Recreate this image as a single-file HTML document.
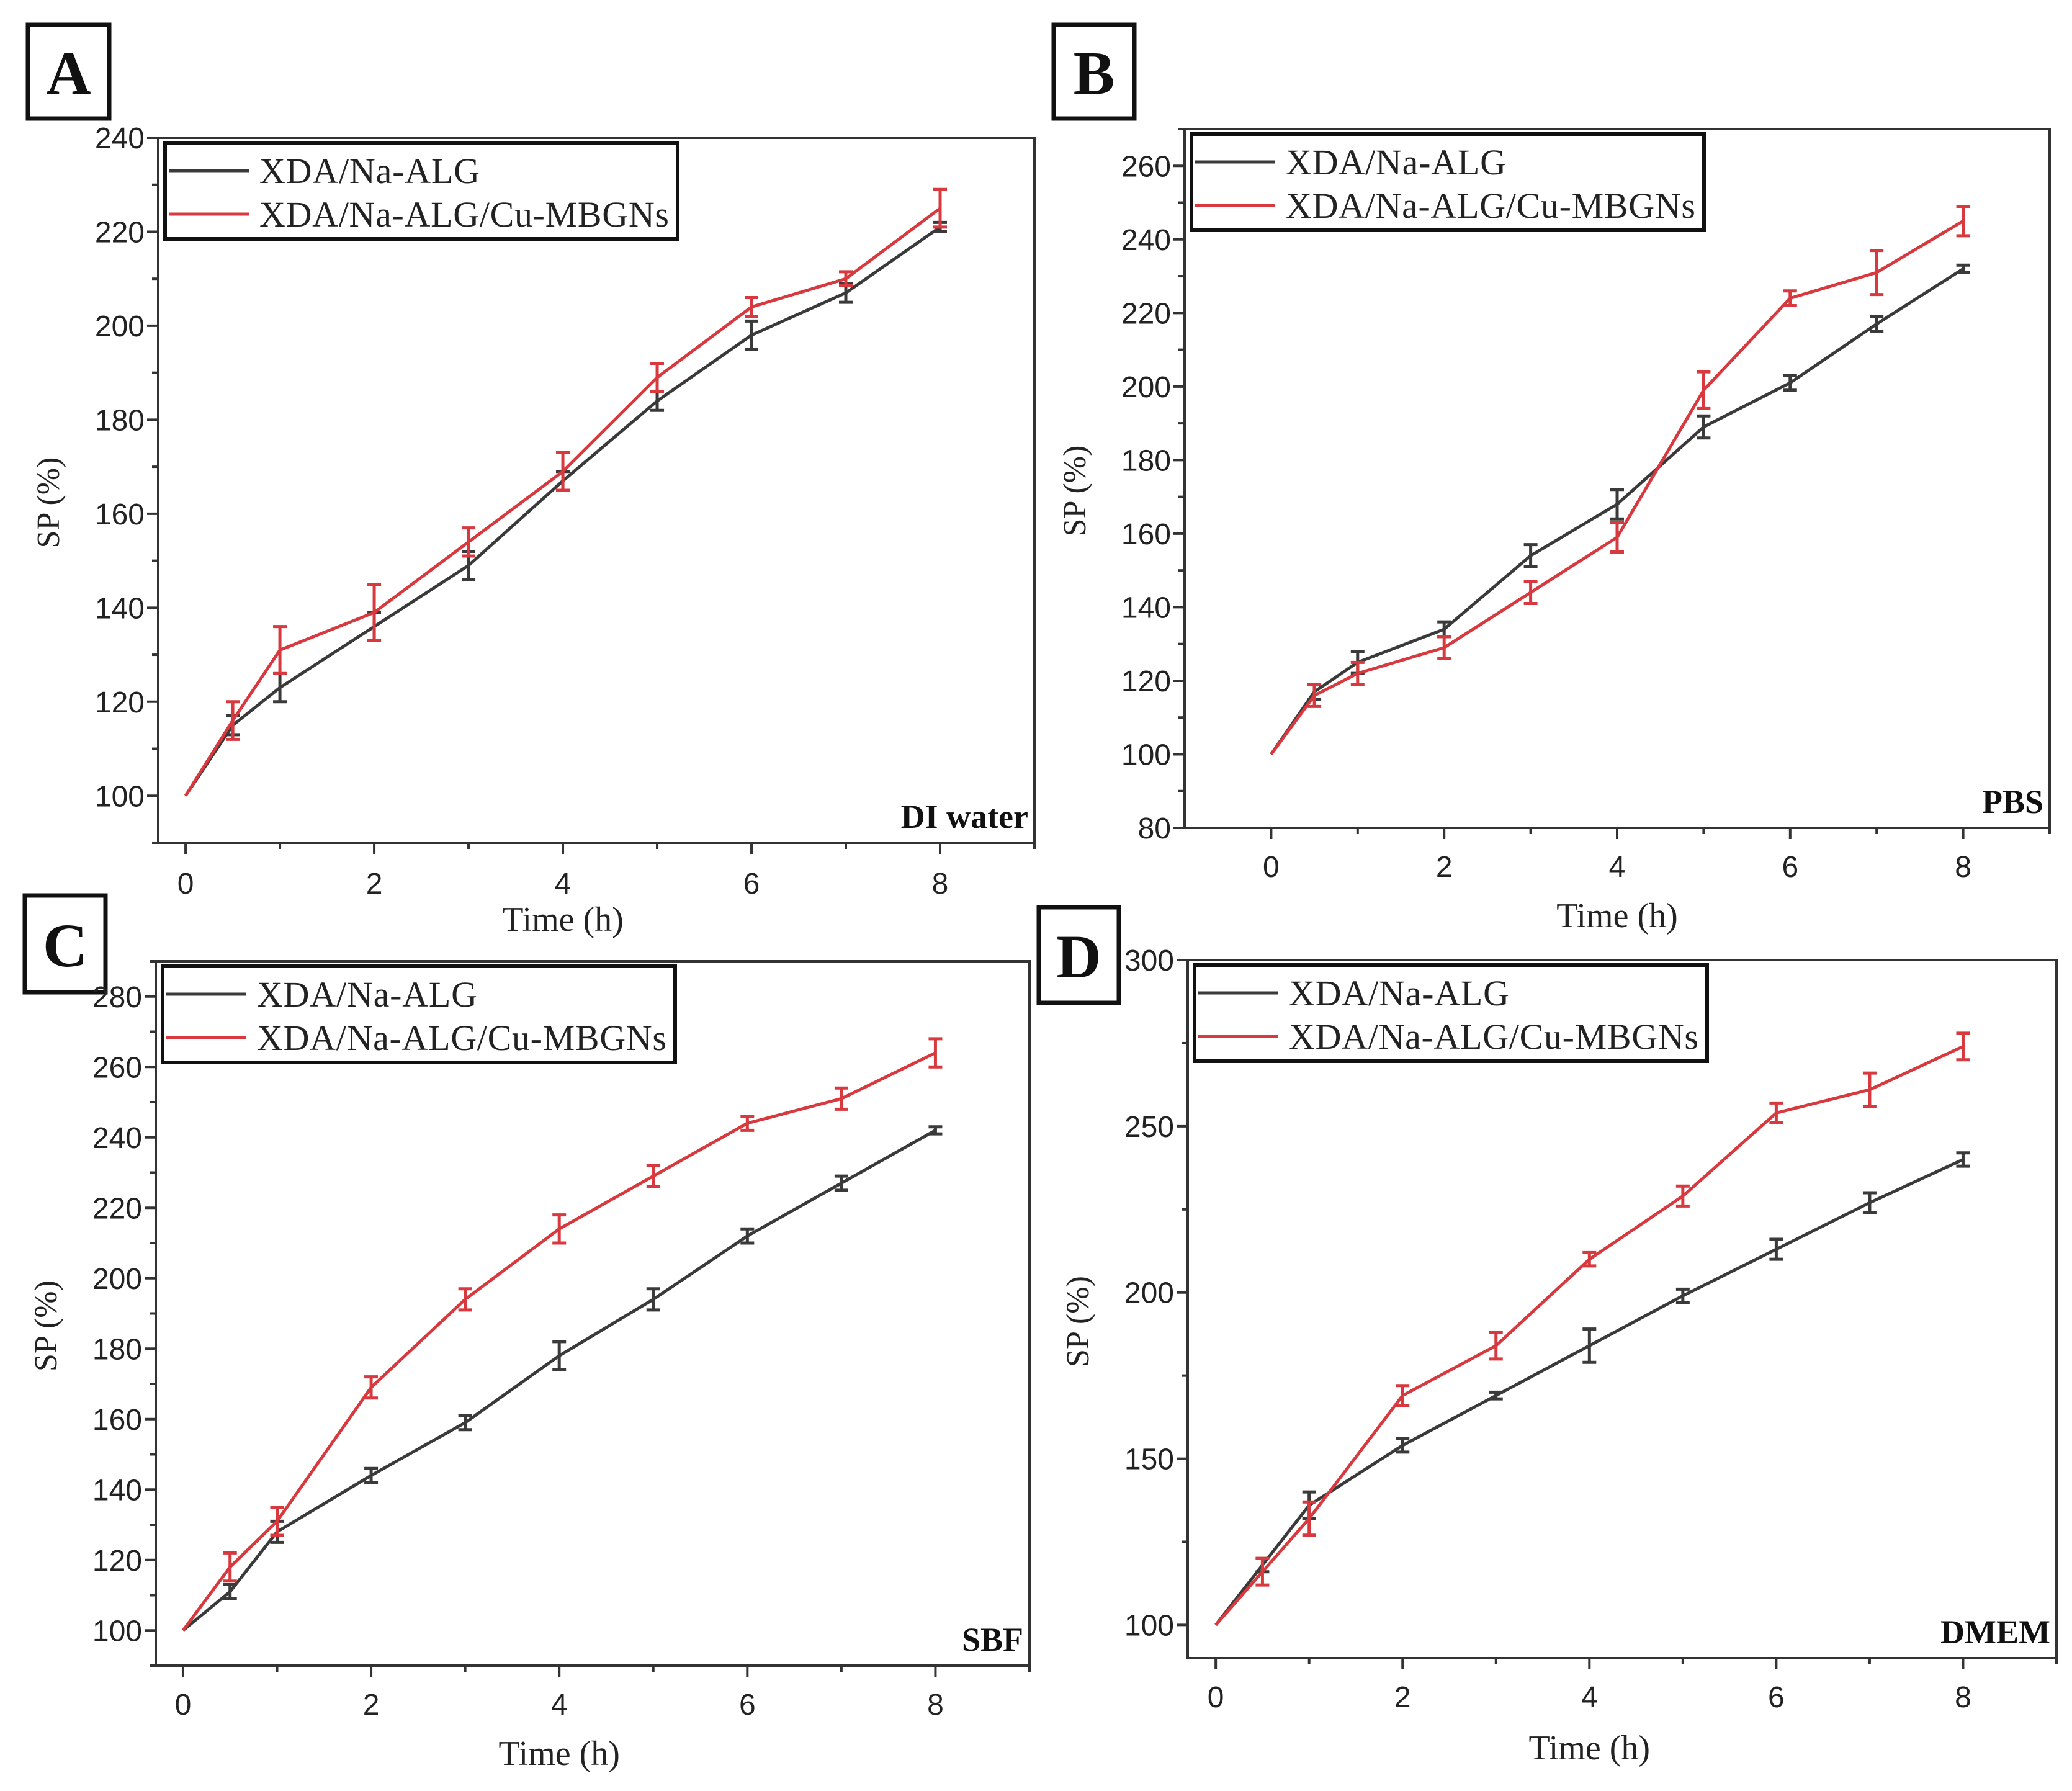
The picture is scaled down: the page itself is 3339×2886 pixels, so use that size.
<!DOCTYPE html>
<html><head><meta charset="utf-8">
<style>
html,body{margin:0;padding:0;background:#fff;}
svg{display:block;}
</style></head>
<body>
<svg id="fig" xmlns="http://www.w3.org/2000/svg" width="3339" height="2886" viewBox="0 0 3339 2886"></svg>
<script>
// ---- data ----
const timesH = [0, 0.5, 1, 2, 3, 4, 5, 6, 7, 8];
const seriesNames = ["XDA/Na-ALG", "XDA/Na-ALG/Cu-MBGNs"];
const xTickLabels = [0, 2, 4, 6, 8];

const aBlack = [100, 115, 123, 136, 149, 167, 184, 198, 207, 221];
const aBlackErr = [0, 2, 3, 3, 3, 2, 2, 3, 2, 1];
const aRed = [100, 116, 131, 139, 154, 169, 189, 204, 210, 225];
const aRedErr = [0, 4, 5, 6, 3, 4, 3, 2, 1.5, 4];
const aYTicks = [100, 120, 140, 160, 180, 200, 220, 240];

const bBlack = [100, 117, 125, 134, 154, 168, 189, 201, 217, 232];
const bBlackErr = [0, 2, 3, 2, 3, 4, 3, 2, 2, 1];
const bRed = [100, 116, 122, 129, 144, 159, 199, 224, 231, 245];
const bRedErr = [0, 3, 3, 3, 3, 4, 5, 2, 6, 4];
const bYTicks = [80, 100, 120, 140, 160, 180, 200, 220, 240, 260];

const cBlack = [100, 111, 128, 144, 159, 178, 194, 212, 227, 242];
const cBlackErr = [0, 2, 3, 2, 2, 4, 3, 2, 2, 1];
const cRed = [100, 118, 131, 169, 194, 214, 229, 244, 251, 264];
const cRedErr = [0, 4, 4, 3, 3, 4, 3, 2, 3, 4];
const cYTicks = [100, 120, 140, 160, 180, 200, 220, 240, 260, 280];

const dBlack = [100, 118, 136, 154, 169, 184, 199, 213, 227, 240];
const dBlackErr = [0, 2, 4, 2, 1, 5, 2, 3, 3, 2];
const dRed = [100, 116, 132, 169, 184, 210, 229, 254, 261, 274];
const dRedErr = [0, 4, 5, 3, 4, 2, 3, 3, 5, 4];
const dYTicks = [100, 150, 200, 250, 300];

const NS = "http://www.w3.org/2000/svg";
const svg = document.getElementById('fig');
const BLACK = "#3a3a3a", RED = "#d8393e", AX = "#333";

function mk(tag, attrs, parent) {
  const e = document.createElementNS(NS, tag);
  for (const k in attrs) e.setAttribute(k, attrs[k]);
  (parent || svg).appendChild(e);
  return e;
}

const panels = [
  {key:'a', letter:'A', note:'DI water', L:255, R:1667, T:222, B:1358, xmin:-0.29, xmax:9.0, ymin:90, ymax:240,
   yTicks:aYTicks, yMinorStep:10, black:aBlack, be:aBlackErr, red:aRed, re:aRedErr,
   letterBox:[45,40,131,151], timeY:1500, xLblY:1440},
  {key:'b', letter:'B', note:'PBS', L:1909, R:3303, T:208, B:1334, xmin:-1.0, xmax:9.0, ymin:80, ymax:270,
   yTicks:bYTicks, yMinorStep:10, black:bBlack, be:bBlackErr, red:bRed, re:bRedErr,
   letterBox:[1698,40,130,151], timeY:1494, xLblY:1413},
  {key:'c', letter:'C', note:'SBF', L:251, R:1659, T:1549, B:2684, xmin:-0.29, xmax:9.0, ymin:90, ymax:290,
   yTicks:cYTicks, yMinorStep:10, black:cBlack, be:cBlackErr, red:cRed, re:cRedErr,
   letterBox:[40,1443,130,156], timeY:2844, xLblY:2763},
  {key:'d', letter:'D', note:'DMEM', L:1914, R:3314, T:1547, B:2672, xmin:-0.3, xmax:9.0, ymin:90, ymax:300,
   yTicks:dYTicks, yMinorStep:25, black:dBlack, be:dBlackErr, red:dRed, re:dRedErr,
   letterBox:[1674,1462,129,154], timeY:2835, xLblY:2751}
];

panels.forEach(p => {
  const g = mk('g', {});
  
  
  const xs = v => p.L + (v - p.xmin) / (p.xmax - p.xmin) * (p.R - p.L);
  const ys = v => p.B - (v - p.ymin) / (p.ymax - p.ymin) * (p.B - p.T);

  const lb = p.letterBox;
  const lr = mk('rect', {x:lb[0], y:lb[1], width:lb[2], height:lb[3], fill:'#fff', stroke:'#111', 'stroke-width':7}, g);
  
  
  const lt = mk('text', {x:lb[0]+lb[2]/2, y:lb[1]+lb[3]/2+36, 'text-anchor':'middle', 'font-family':'"Liberation Serif", serif', 'font-weight':'bold', 'font-size':100, fill:'#111'}, g);
  lt.textContent = p.letter;
  
  

  const fr = mk('rect', {x:p.L, y:p.T, width:p.R-p.L, height:p.B-p.T, fill:'none', stroke:AX, 'stroke-width':4}, g);
  
  

  for (let v = 0; v <= 9; v++) {
    const x = xs(v);
    if (x < p.L - 1 || x > p.R + 1) continue;
    const major = v % 2 === 0;
    mk('line', {x1:x, y1:p.B, x2:x, y2:p.B + (major?18:10), stroke:AX, 'stroke-width':4}, g);
  }
  xTickLabels.forEach(v => {
    const t = mk('text', {x:xs(v), y:p.xLblY, 'text-anchor':'middle', 'font-family':'"Liberation Sans", sans-serif', 'font-size':48, fill:'#222'}, g);
    t.textContent = v;
    
    
  });
  for (let v = Math.ceil(p.ymin / p.yMinorStep) * p.yMinorStep; v <= p.ymax; v += p.yMinorStep) {
    const major = p.yTicks.indexOf(v) >= 0;
    mk('line', {x1:p.L, y1:ys(v), x2:p.L - (major?18:10), y2:ys(v), stroke:AX, 'stroke-width':4}, g);
  }
  p.yTicks.forEach(v => {
    const t = mk('text', {x:p.L - 22, y:ys(v) + 17, 'text-anchor':'end', 'font-family':'"Liberation Sans", sans-serif', 'font-size':48, fill:'#222'}, g);
    t.textContent = v;
    
    
  });
  const xt = mk('text', {x:(xs(0)+xs(8))/2, y:p.timeY, 'text-anchor':'middle', 'font-family':'"Liberation Serif", serif', 'font-size':56, fill:'#222'}, g);
  xt.textContent = 'Time (h)';
  
  
  const yc = (p.T + p.B) / 2 + 20, yx = p.L - 160;
  const yt = mk('text', {x:yx, y:yc, transform:`rotate(-90 ${yx} ${yc})`, 'text-anchor':'middle', 'font-family':'"Liberation Serif", serif', 'font-size':52, fill:'#222'}, g);
  yt.textContent = 'SP (%)';
  
  

  const ser = [[p.black, p.be, BLACK, 'series-xda-na-alg'], [p.red, p.re, RED, 'series-xda-na-alg-cu-mbgns']];
  ser.forEach(s => {
    const vals = s[0], errs = s[1], col = s[2];
    const pts = timesH.map((t, i) => xs(t) + ',' + ys(vals[i])).join(' ');
    const pl = mk('polyline', {points:pts, fill:'none', stroke:col, 'stroke-width':5, 'stroke-linejoin':'round'}, g);
    
    
    timesH.forEach((t, i) => {
      if (!errs[i]) return;
      const x = xs(t), y1 = ys(vals[i] - errs[i]), y2 = ys(vals[i] + errs[i]);
      const eb = mk('path', {d:`M${x},${y1}V${y2}M${x-11},${y1}H${x+11}M${x-11},${y2}H${x+11}`, stroke:col, 'stroke-width':5, fill:'none'}, g);
      
      
    });
  });

  const lx = p.L + 11, ly = p.T + 8;
  const lg = mk('g', {}, g);
  
  
  mk('rect', {x:lx, y:ly, width:826, height:155, fill:'#fff', stroke:'#111', 'stroke-width':6}, lg);
  [[BLACK, 0], [RED, 1]].forEach(r => {
    const cy = ly + 45 + r[1]*70;
    mk('line', {x1:lx+6, y1:cy, x2:lx+135, y2:cy, stroke:r[0], 'stroke-width':5}, lg);
    const tt = mk('text', {x:lx+152, y:cy+20, 'font-family':'"Liberation Serif", serif', 'font-size':58, fill:'#222'}, lg);
    tt.textContent = seriesNames[r[1]];
    tt.setAttribute('textLength', r[1] === 1 ? 660 : 355);
    
    
  });

  const nt = mk('text', {x:p.R - 10, y:p.B - 24, 'text-anchor':'end', 'font-family':'"Liberation Serif", serif', 'font-weight':'bold', 'font-size':54, fill:'#111'}, g);
  nt.textContent = p.note;
  
  
});
</script>
</body></html>
